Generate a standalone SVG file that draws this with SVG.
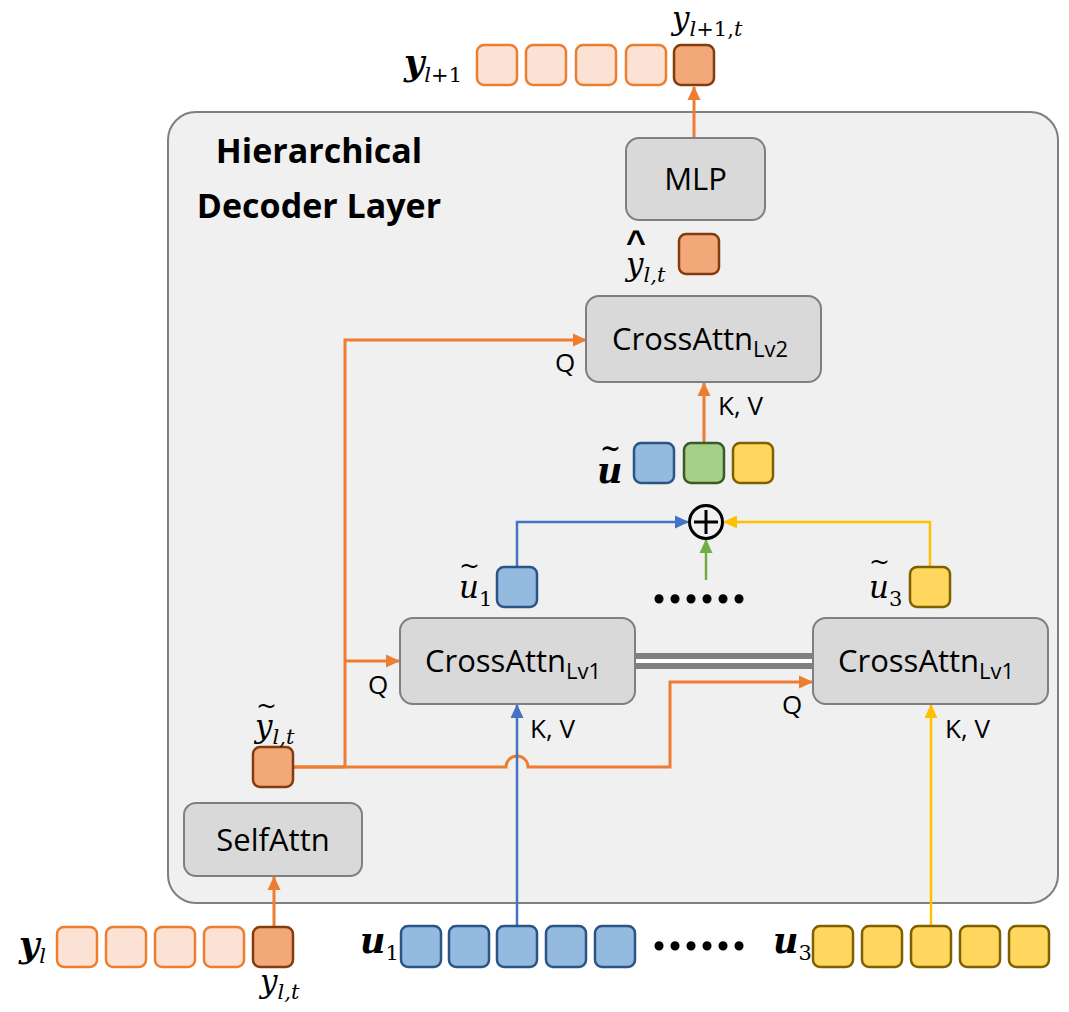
<svg xmlns="http://www.w3.org/2000/svg" width="1069" height="1012" viewBox="0 0 1069 1012">
  <style>
    .panel { fill: #f0f0f0; stroke: #7f7f7f; stroke-width: 2; }
    .block { fill: #d9d9d9; stroke: #7f7f7f; stroke-width: 2; }
    .lbl { font-family: "Open Sans", "Liberation Sans", sans-serif; font-size: 31px; fill: #000; }
    .sub { font-size: 22px; }
    .port { font-family: "Open Sans", "Liberation Sans", sans-serif; font-size: 26px; fill: #000; }
    .title { font-family: "Open Sans", "Liberation Sans", sans-serif; font-size: 34px; font-weight: bold; fill: #000; text-anchor: middle; }
    .m { font-family: "DejaVu Serif", "Liberation Serif", serif; font-style: italic; fill: #000; font-size: 31px; }
    .mb { font-weight: bold; font-size: 35px; }
    .ms { font-size: 21px; font-weight: normal; }
    .up { font-style: normal; }
    .tl { font-family: "DejaVu Serif", "Liberation Serif", serif; font-size: 25px; fill: #000; }
    .dots { font-family: "Liberation Serif", serif; font-weight: bold; font-size: 56px; fill: #000; }
    .tokO { fill: #fbe2d5; stroke: #ed7d31; stroke-width: 2.5; }
    .tokOd { fill: #f2a878; stroke: #843c0c; stroke-width: 2.5; }
    .tokB { fill: #95bae0; stroke: #2a5585; stroke-width: 2.5; }
    .tokG { fill: #a6cf8a; stroke: #3b5a26; stroke-width: 2.5; }
    .tokY { fill: #ffd75e; stroke: #7f6000; stroke-width: 2.5; }
    .wO { fill: none; stroke: #ed7d31; stroke-width: 3; }
    .wB { fill: none; stroke: #4472c4; stroke-width: 2.5; }
    .wG { fill: none; stroke: #70ad47; stroke-width: 2.5; }
    .wY { fill: none; stroke: #ffc000; stroke-width: 2.5; }
  </style>
  <defs>
    <marker id="aO" markerWidth="15" markerHeight="15" refX="13" refY="7.5" orient="auto" markerUnits="userSpaceOnUse">
      <path d="M0,1 L14,7.5 L0,14 Z" fill="#ed7d31"/>
    </marker>
    <marker id="aB" markerWidth="15" markerHeight="15" refX="13" refY="7.5" orient="auto" markerUnits="userSpaceOnUse">
      <path d="M0,1 L14,7.5 L0,14 Z" fill="#4472c4"/>
    </marker>
    <marker id="aG" markerWidth="15" markerHeight="15" refX="13" refY="7.5" orient="auto" markerUnits="userSpaceOnUse">
      <path d="M0,1 L14,7.5 L0,14 Z" fill="#70ad47"/>
    </marker>
    <marker id="aY" markerWidth="15" markerHeight="15" refX="13" refY="7.5" orient="auto" markerUnits="userSpaceOnUse">
      <path d="M0,1 L14,7.5 L0,14 Z" fill="#ffc000"/>
    </marker>
  </defs>

  <rect width="1069" height="1012" fill="#ffffff"/>

  <!-- decoder layer container -->
  <g id="decoder-layer">
    <rect class="panel" x="168" y="112" width="890" height="791" rx="28"/>
    <text class="title" x="319" y="163">Hierarchical</text>
    <text class="title" x="319" y="218">Decoder Layer</text>
  </g>

  <!-- connectors -->
  <g id="connectors">
    <!-- coupling between the two level-1 cross-attention blocks -->
    <line x1="635" y1="661" x2="813" y2="661" stroke="#808080" stroke-width="16"/>
    <line x1="635" y1="661" x2="813" y2="661" stroke="#ffffff" stroke-width="4"/>

    <!-- token from the input sequence into self-attention -->
    <line class="wO" x1="274" y1="927" x2="274" y2="877" marker-end="url(#aO)"/>
    <!-- query trunk with a hop over the blue K,V line -->
    <path class="wO" d="M293,767 H345 M345,767 V340 H586" marker-end="url(#aO)"/>
    <path class="wO" d="M345,661 H399" marker-end="url(#aO)"/>
    <path class="wO" d="M293,767 H506 A11,11 0 0 1 528,767 H670 V682 H812" marker-end="url(#aO)"/>
    <!-- fused memory into level-2 attention -->
    <line class="wO" x1="704" y1="443" x2="704" y2="383" marker-end="url(#aO)"/>
    <!-- MLP to output token -->
    <line class="wO" x1="694" y1="138" x2="694" y2="87" marker-end="url(#aO)"/>

    <!-- K,V from memory sequences -->
    <line class="wB" x1="517" y1="926" x2="517" y2="705" marker-end="url(#aB)"/>
    <line class="wY" x1="931" y1="926" x2="931" y2="705" marker-end="url(#aY)"/>

    <!-- level-1 outputs into the sum -->
    <path class="wB" d="M517,567 V522 H688" marker-end="url(#aB)"/>
    <path class="wY" d="M930,567 V522 H724" marker-end="url(#aY)"/>
    <line class="wG" x1="706" y1="580" x2="706" y2="540" marker-end="url(#aG)"/>
  </g>

  <!-- output sequence y_{l+1} -->
  <g id="seq-out">
    <rect class="tokO" x="477" y="45" width="40" height="40" rx="7"/>
    <rect class="tokO" x="526" y="45" width="40" height="40" rx="7"/>
    <rect class="tokO" x="576" y="45" width="40" height="40" rx="7"/>
    <rect class="tokO" x="626" y="45" width="40" height="40" rx="7"/>
    <rect class="tokOd" x="674" y="45" width="40" height="40" rx="7"/>
    <text class="m mb" x="404" y="75">y<tspan class="ms" dy="7">l</tspan><tspan class="ms up">+1</tspan></text>
    <text class="m" x="672" y="29">y<tspan class="ms" dy="7">l</tspan><tspan class="ms up">+1,</tspan><tspan class="ms">t</tspan></text>
  </g>

  <g id="mlp">
    <rect class="block" x="626" y="138" width="139" height="82" rx="13"/>
    <text class="lbl" x="695.5" y="190" text-anchor="middle">MLP</text>
  </g>

  <g id="y-hat">
    <rect class="tokOd" x="679" y="234" width="40" height="40" rx="7"/>
    <text x="626" y="253" font-family="Liberation Sans, sans-serif" font-weight="bold" font-size="34" fill="#000">^</text>
    <text class="m" x="626" y="275">y<tspan class="ms" dy="7">l,</tspan><tspan class="ms">t</tspan></text>
  </g>

  <g id="cross-attn-lv2">
    <rect class="block" x="586" y="296" width="235" height="86" rx="13"/>
    <text class="lbl" x="612" y="350">CrossAttn<tspan class="sub" dy="7">Lv2</tspan></text>
    <text class="port" x="555" y="372">Q</text>
    <text class="port" x="718" y="415">K, V</text>
  </g>

  <g id="u-tilde">
    <rect class="tokB" x="634" y="443" width="40" height="40" rx="7"/>
    <rect class="tokG" x="684" y="443" width="40" height="40" rx="7"/>
    <rect class="tokY" x="733" y="443" width="40" height="40" rx="7"/>
    <text class="tl" x="600" y="456" font-weight="bold">~</text>
    <text class="m mb" x="597" y="483">u</text>
  </g>

  <g id="sum">
    <circle cx="706" cy="522" r="16.5" fill="none" stroke="#000" stroke-width="3"/>
    <line x1="694" y1="522" x2="718" y2="522" stroke="#000" stroke-width="3"/>
    <line x1="706" y1="510" x2="706" y2="534" stroke="#000" stroke-width="3"/>
  </g>

  <g id="dots-mid">
    <text class="dots" x="652" y="603" letter-spacing="2">......</text>
  </g>

  <g id="u1-tilde">
    <rect class="tokB" x="497" y="567" width="40" height="40" rx="7"/>
    <text class="tl" x="459" y="574">~</text>
    <text class="m" x="459" y="598">u<tspan class="ms up" dy="8">1</tspan></text>
  </g>

  <g id="u3-tilde">
    <rect class="tokY" x="910" y="567" width="40" height="40" rx="7"/>
    <text class="tl" x="869" y="570">~</text>
    <text class="m" x="869" y="598">u<tspan class="ms up" dy="8">3</tspan></text>
  </g>

  <g id="cross-attn-lv1-a">
    <rect class="block" x="400" y="618" width="235" height="86" rx="13"/>
    <text class="lbl" x="425" y="672">CrossAttn<tspan class="sub" dy="7">Lv1</tspan></text>
    <text class="port" x="368" y="694">Q</text>
    <text class="port" x="530" y="738">K, V</text>
  </g>

  <g id="cross-attn-lv1-b">
    <rect class="block" x="813" y="618" width="235" height="86" rx="13"/>
    <text class="lbl" x="838" y="672">CrossAttn<tspan class="sub" dy="7">Lv1</tspan></text>
    <text class="port" x="782" y="714">Q</text>
    <text class="port" x="945" y="738">K, V</text>
  </g>

  <g id="y-tilde">
    <rect class="tokOd" x="253" y="747" width="40" height="40" rx="7"/>
    <text class="tl" x="256" y="714">~</text>
    <text class="m" x="255" y="737">y<tspan class="ms" dy="7">l,</tspan><tspan class="ms">t</tspan></text>
  </g>

  <g id="self-attn">
    <rect class="block" x="184" y="803" width="178" height="73" rx="12"/>
    <text class="lbl" x="273" y="851" text-anchor="middle">SelfAttn</text>
  </g>

  <!-- input sequence y_l -->
  <g id="seq-in">
    <rect class="tokO" x="57" y="927" width="40" height="40" rx="7"/>
    <rect class="tokO" x="106" y="927" width="40" height="40" rx="7"/>
    <rect class="tokO" x="155" y="927" width="40" height="40" rx="7"/>
    <rect class="tokO" x="204" y="927" width="40" height="40" rx="7"/>
    <rect class="tokOd" x="253" y="927" width="40" height="40" rx="7"/>
    <text class="m mb" x="19" y="957">y<tspan class="ms" dy="6">l</tspan></text>
    <text class="m" x="260" y="992">y<tspan class="ms" dy="7">l,</tspan><tspan class="ms">t</tspan></text>
  </g>

  <!-- memory sequence u_1 -->
  <g id="seq-u1">
    <rect class="tokB" x="401" y="926" width="40" height="41" rx="7"/>
    <rect class="tokB" x="449" y="926" width="40" height="41" rx="7"/>
    <rect class="tokB" x="497" y="926" width="40" height="41" rx="7"/>
    <rect class="tokB" x="546" y="926" width="40" height="41" rx="7"/>
    <rect class="tokB" x="595" y="926" width="40" height="41" rx="7"/>
    <text class="m mb" x="360" y="953">u<tspan class="ms up" dy="7">1</tspan></text>
  </g>

  <g id="dots-bottom">
    <text class="dots" x="652" y="950" letter-spacing="2">......</text>
  </g>

  <!-- memory sequence u_3 -->
  <g id="seq-u3">
    <rect class="tokY" x="813" y="926" width="40" height="41" rx="7"/>
    <rect class="tokY" x="862" y="926" width="40" height="41" rx="7"/>
    <rect class="tokY" x="911" y="926" width="40" height="41" rx="7"/>
    <rect class="tokY" x="960" y="926" width="40" height="41" rx="7"/>
    <rect class="tokY" x="1009" y="926" width="40" height="41" rx="7"/>
    <text class="m mb" x="773" y="953">u<tspan class="ms up" dy="7">3</tspan></text>
  </g>
</svg>
